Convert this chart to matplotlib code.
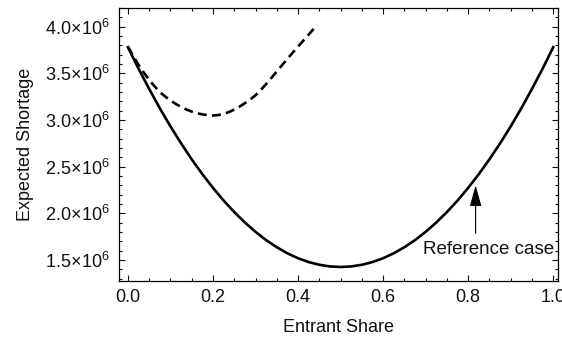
import numpy as np
import matplotlib.pyplot as plt
from matplotlib.ticker import MultipleLocator, FuncFormatter

plt.rcParams['font.family'] = ['Liberation Sans', 'DejaVu Sans']
plt.rcParams['mathtext.fontset'] = 'custom'
plt.rcParams['mathtext.rm'] = 'Liberation Sans'
plt.rcParams['mathtext.it'] = 'Liberation Sans:italic'

# -------------------------------
# Data
# -------------------------------
share_solid = [0.0, 0.025, 0.05, 0.075, 0.1, 0.125, 0.15, 0.175, 0.2, 0.225,
               0.25, 0.275, 0.3, 0.325, 0.35, 0.375, 0.4, 0.425, 0.45, 0.475,
               0.5, 0.525, 0.55, 0.575, 0.6, 0.625, 0.65, 0.675, 0.7, 0.725,
               0.75, 0.775, 0.8, 0.825, 0.85, 0.875, 0.9, 0.925, 0.95, 0.975, 1.0]
shortage_solid = [3.780e6, 3.550e6, 3.333e6, 3.126e6, 2.932e6, 2.750e6, 2.579e6,
                  2.420e6, 2.273e6, 2.137e6, 2.014e6, 1.902e6, 1.802e6, 1.713e6,
                  1.637e6, 1.572e6, 1.519e6, 1.478e6, 1.449e6, 1.431e6, 1.425e6,
                  1.431e6, 1.449e6, 1.478e6, 1.519e6, 1.572e6, 1.637e6, 1.713e6,
                  1.802e6, 1.902e6, 2.014e6, 2.137e6, 2.273e6, 2.420e6, 2.579e6,
                  2.750e6, 2.932e6, 3.126e6, 3.333e6, 3.550e6, 3.780e6]

share_dashed = [0.0, 0.0125, 0.025, 0.0375, 0.05, 0.0625, 0.075, 0.0875, 0.1,
                0.1125, 0.125, 0.1375, 0.15, 0.1625, 0.175, 0.1875, 0.2, 0.2125,
                0.225, 0.2375, 0.25, 0.2625, 0.275, 0.2875, 0.3, 0.3125, 0.325,
                0.3375, 0.35, 0.3625, 0.375, 0.3875, 0.4, 0.4125, 0.425, 0.435,
                0.445]
shortage_dashed = [3.786e6, 3.685e6, 3.590e6, 3.507e6, 3.430e6, 3.362e6, 3.300e6,
                   3.252e6, 3.210e6, 3.172e6, 3.140e6, 3.112e6, 3.090e6, 3.073e6,
                   3.060e6, 3.052e6, 3.048e6, 3.053e6, 3.065e6, 3.085e6, 3.112e6,
                   3.143e6, 3.180e6, 3.220e6, 3.265e6, 3.322e6, 3.385e6, 3.452e6,
                   3.520e6, 3.588e6, 3.655e6, 3.722e6, 3.787e6, 3.851e6, 3.915e6,
                   3.967e6, 4.020e6]

ref_x = 0.8175
ref_tip = 2.30e6
ref_tail = 1.786e6
ref_label_y = 1.617e6

# -------------------------------
# Plot
# -------------------------------
fig = plt.figure(figsize=(5.62, 3.40), dpi=100)
ax = fig.add_axes([0.2117, 0.1735, 0.7803, 0.803])

ax.plot(share_solid, shortage_solid, color="k", lw=1.9, solid_joinstyle="round")
ax.plot(share_dashed, shortage_dashed, color="k", lw=1.9, dashes=(3.4, 2.0))

ax.annotate("", xy=(ref_x, ref_tip), xytext=(ref_x, ref_tail),
            arrowprops=dict(arrowstyle="-|>,head_length=1.3,head_width=0.36",
                            mutation_scale=10, color="k", lw=0.8,
                            shrinkA=0, shrinkB=0))
ax.text(ref_x + 0.03, ref_label_y, "Reference case", fontsize=13.5,
        ha="center", va="center", color="#111111")

ax.set_xlim(-0.021, 1.01)
ax.set_ylim(1.275e6, 4.2e6)

ax.xaxis.set_major_locator(MultipleLocator(0.2))
ax.xaxis.set_minor_locator(MultipleLocator(0.05))
ax.yaxis.set_major_locator(MultipleLocator(0.5e6))
ax.yaxis.set_minor_locator(MultipleLocator(0.1e6))

ax.xaxis.set_major_formatter(FuncFormatter(lambda v, p: f"{v:.1f}"))
ax.yaxis.set_major_formatter(
    FuncFormatter(lambda v, p: r"$%.1f\!\times\!10^{6}$" % (v / 1e6)))

ax.tick_params(which="both", direction="in", top=True, right=True,
               labelsize=13, colors="#111111", width=0.8, pad=6)
ax.tick_params(which="major", length=4)
ax.tick_params(which="minor", length=2.4)
for s in ax.spines.values():
    s.set_linewidth(0.9)

ax.set_xlabel("Entrant Share", fontsize=13, labelpad=9, color="#111111")
ax.set_ylabel("Expected Shortage", fontsize=13, labelpad=8, color="#111111")

fig.savefig("out.png", dpi=100)
